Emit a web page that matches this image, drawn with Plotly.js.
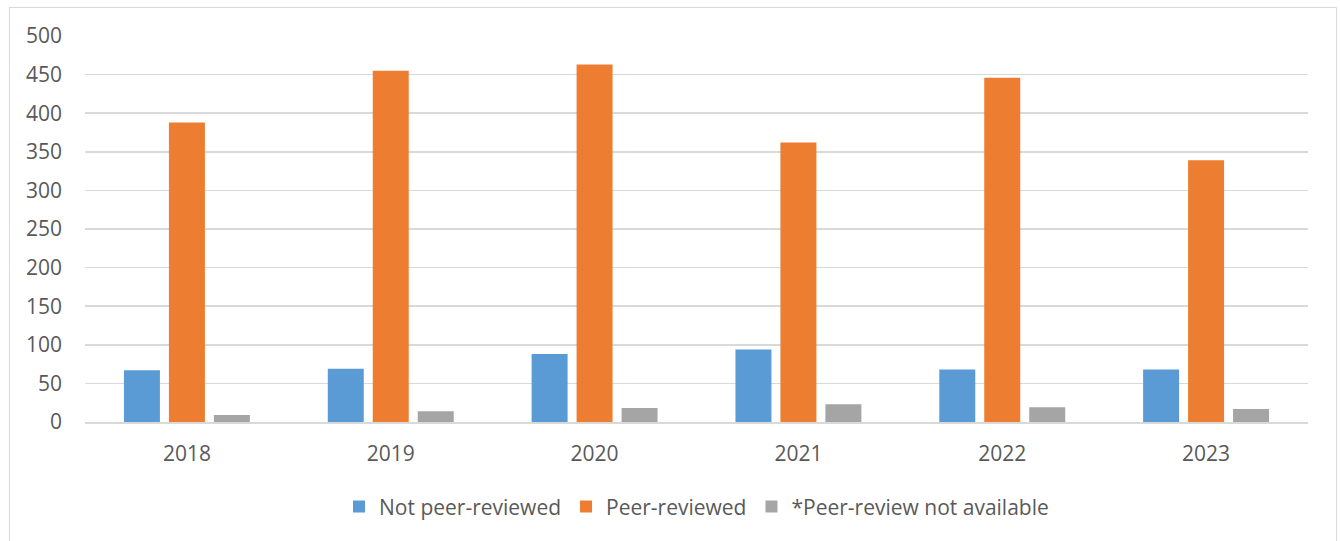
<!DOCTYPE html>
<html>
<head>
<meta charset="utf-8">
<script src="https://cdn.plot.ly/plotly-3.0.1.min.js"></script>
<style>
html,body{margin:0;padding:0;background:#fff;}
#frame{position:absolute;left:9px;top:7px;width:1328px;height:540px;border:1px solid #d9d9d9;box-sizing:border-box;pointer-events:none;z-index:5;}
#chart{position:absolute;left:0;top:0;width:1340px;height:541px;}
</style>
</head>
<body>
<div id="chart"></div>
<div id="frame"></div>
<script>
const years = ['2018','2019','2020','2021','2022','2023'];
const notPeerReviewed = [67, 69, 88, 94, 68, 68];
const peerReviewed = [388, 455, 463, 362, 446, 339];
const notAvailable = [9, 14, 18, 23, 19, 17];
const yTicks = [0, 50, 100, 150, 200, 250, 300, 350, 400, 450, 500];

const traces = [
  {type:'bar', name:'Not peer-reviewed', x:years, y:notPeerReviewed,
   marker:{color:'#5b9bd5'}},
  {type:'bar', name:'Peer-reviewed', x:years, y:peerReviewed,
   marker:{color:'#ed7d31'}},
  {type:'bar', name:'*Peer-review not available', x:years, y:notAvailable,
   marker:{color:'#a5a5a5'}}
];

const layout = {
  width:1340, height:541,
  margin:{l:85, r:32, t:36, b:119},
  paper_bgcolor:'rgba(0,0,0,0)', plot_bgcolor:'#fff',
  barmode:'group', bargap:0.338, bargroupgap:0.2,
  font:{family:'"Open Sans", "Liberation Sans", sans-serif', size:21, color:'#595959'},
  xaxis:{type:'category', showgrid:false, zeroline:false, showline:true,
         linecolor:'#d9d9d9', linewidth:1.5, ticks:'', ticklabelstandoff:12,
         tickfont:{size:21, color:'#595959'}},
  yaxis:{range:[0,500], tickvals:yTicks, ticktext:yTicks.map(String),
         showgrid:true, gridcolor:'#d9d9d9', gridwidth:1.5, zeroline:false,
         showline:false, ticks:'', ticklen:0, ticklabelstandoff:22,
         tickfont:{size:21, color:'#595959'}},
  showlegend:true,
  legend:{orientation:'h', x:0.5, xanchor:'center', y:-0.22, yanchor:'middle',
          font:{size:21, color:'#595959'}, traceorder:'normal'},
  hovermode:false
};

Plotly.newPlot('chart', traces, layout, {displayModeBar:false, staticPlot:true});
</script>
</body>
</html>
